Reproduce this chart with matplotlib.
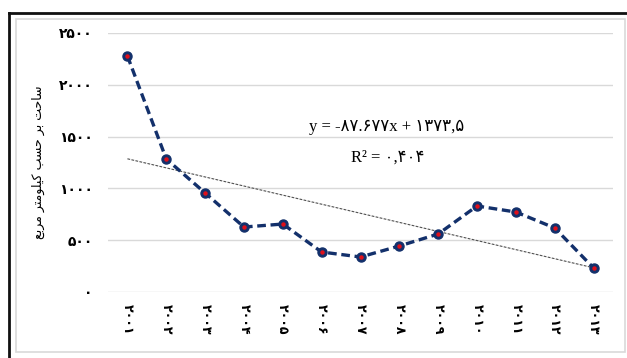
import matplotlib.pyplot as plt
from matplotlib.patches import Rectangle
from matplotlib.lines import Line2D

# data
years = ['۲۰۰۱', '۲۰۰۲', '۲۰۰۳', '۲۰۰۴', '۲۰۰۵', '۲۰۰۶', '۲۰۰۷',
         '۲۰۰۸', '۲۰۰۹', '۲۰۱۰', '۲۰۱۱', '۲۰۱۲', '۲۰۱۳']
area = [2278, 1284, 956, 627, 656, 386, 338, 444, 560, 830, 772, 618, 232]
y_ticks = [0, 500, 1000, 1500, 2000, 2500]
y_tick_labels = ['۰', '۵۰۰', '۱۰۰۰', '۱۵۰۰', '۲۰۰۰', '۲۵۰۰']
slope, intercept = -87.677, 1373.5
eq_text = 'y = -۸۷.۶۷۷x + ۱۳۷۳,۵'
r2_text = 'R² = ۰,۴۰۴'

# "ساحت بر حسب کیلومتر مربع" in presentation forms, visual (RTL) order
words = ['\uFEB3\uFE8E\uFEA3\uFE96',                      # ساحت
         '\uFE91\uFEAE',                                  # بر
         '\uFEA3\uFEB4\uFE90',                            # حسب
         '\uFB90\uFBFF\uFEE0\uFEEE\uFEE3\uFE98\uFEAE',    # کیلومتر
         '\uFEE3\uFEAE\uFE91\uFECA']                      # مربع
ylabel = ' '.join(words)[::-1]

W, H = 627, 358
fig = plt.figure(figsize=(W / 100, H / 100), dpi=100)

# frame around the chart
fig.add_artist(Rectangle((16 / W, 1 - 352 / H), (625 - 16) / W, (352 - 19) / H,
                         transform=fig.transFigure, fill=False,
                         edgecolor='#D9D9D9', lw=1.2))
fig.add_artist(Line2D([9 / W, 9 / W], [0, 1 - 13 / H], transform=fig.transFigure,
                      color='#111111', lw=2))
fig.add_artist(Line2D([9 / W, 1], [1 - 13 / H, 1 - 13 / H], transform=fig.transFigure,
                      color='#111111', lw=2))

ax = fig.add_axes([108 / W, 1 - 292 / H, (613 - 108) / W, (292 - 33) / H])
x = list(range(len(years)))

ax.plot(x, area, color='#13306B', lw=2.4, dashes=(2.6, 1.4),
        marker='o', markersize=6.5, markerfacecolor='#13306B',
        markeredgecolor='#13306B', zorder=3)
ax.plot(x, area, ls='none', marker='o', markersize=2.2, color='#E0101A', zorder=4)

trend = [slope * (i + 1) + intercept for i in x]
ax.plot(x, trend, color='#505050', lw=0.8, dashes=(2.5, 1.2), zorder=2)

ax.set_xlim(-0.5, len(years) - 0.5)
ax.set_ylim(0, 2500)
ax.set_yticks(y_ticks)
ax.set_yticklabels(y_tick_labels, fontsize=10, fontweight='bold')
ax.set_xticks(x)
ax.set_xticklabels(years, rotation=270, fontsize=9, fontweight='bold')
ax.tick_params(length=0)
ax.tick_params(axis='y', pad=11)
ax.tick_params(axis='x', pad=9)
ax.grid(axis='y', color='#D9D9D9', lw=1)
ax.set_axisbelow(True)
for s in ax.spines.values():
    s.set_visible(False)

ax.set_ylabel(ylabel, fontsize=9, labelpad=10)

fig.text(387 / W, 1 - 127 / H, eq_text, ha='center', va='center', fontsize=12,
         family=['Liberation Serif', 'DejaVu Sans'])
fig.text(388 / W, 1 - 158 / H, r2_text, ha='center', va='center', fontsize=12,
         family=['Liberation Serif', 'DejaVu Sans'])

fig.savefig('out.png', dpi=100)
